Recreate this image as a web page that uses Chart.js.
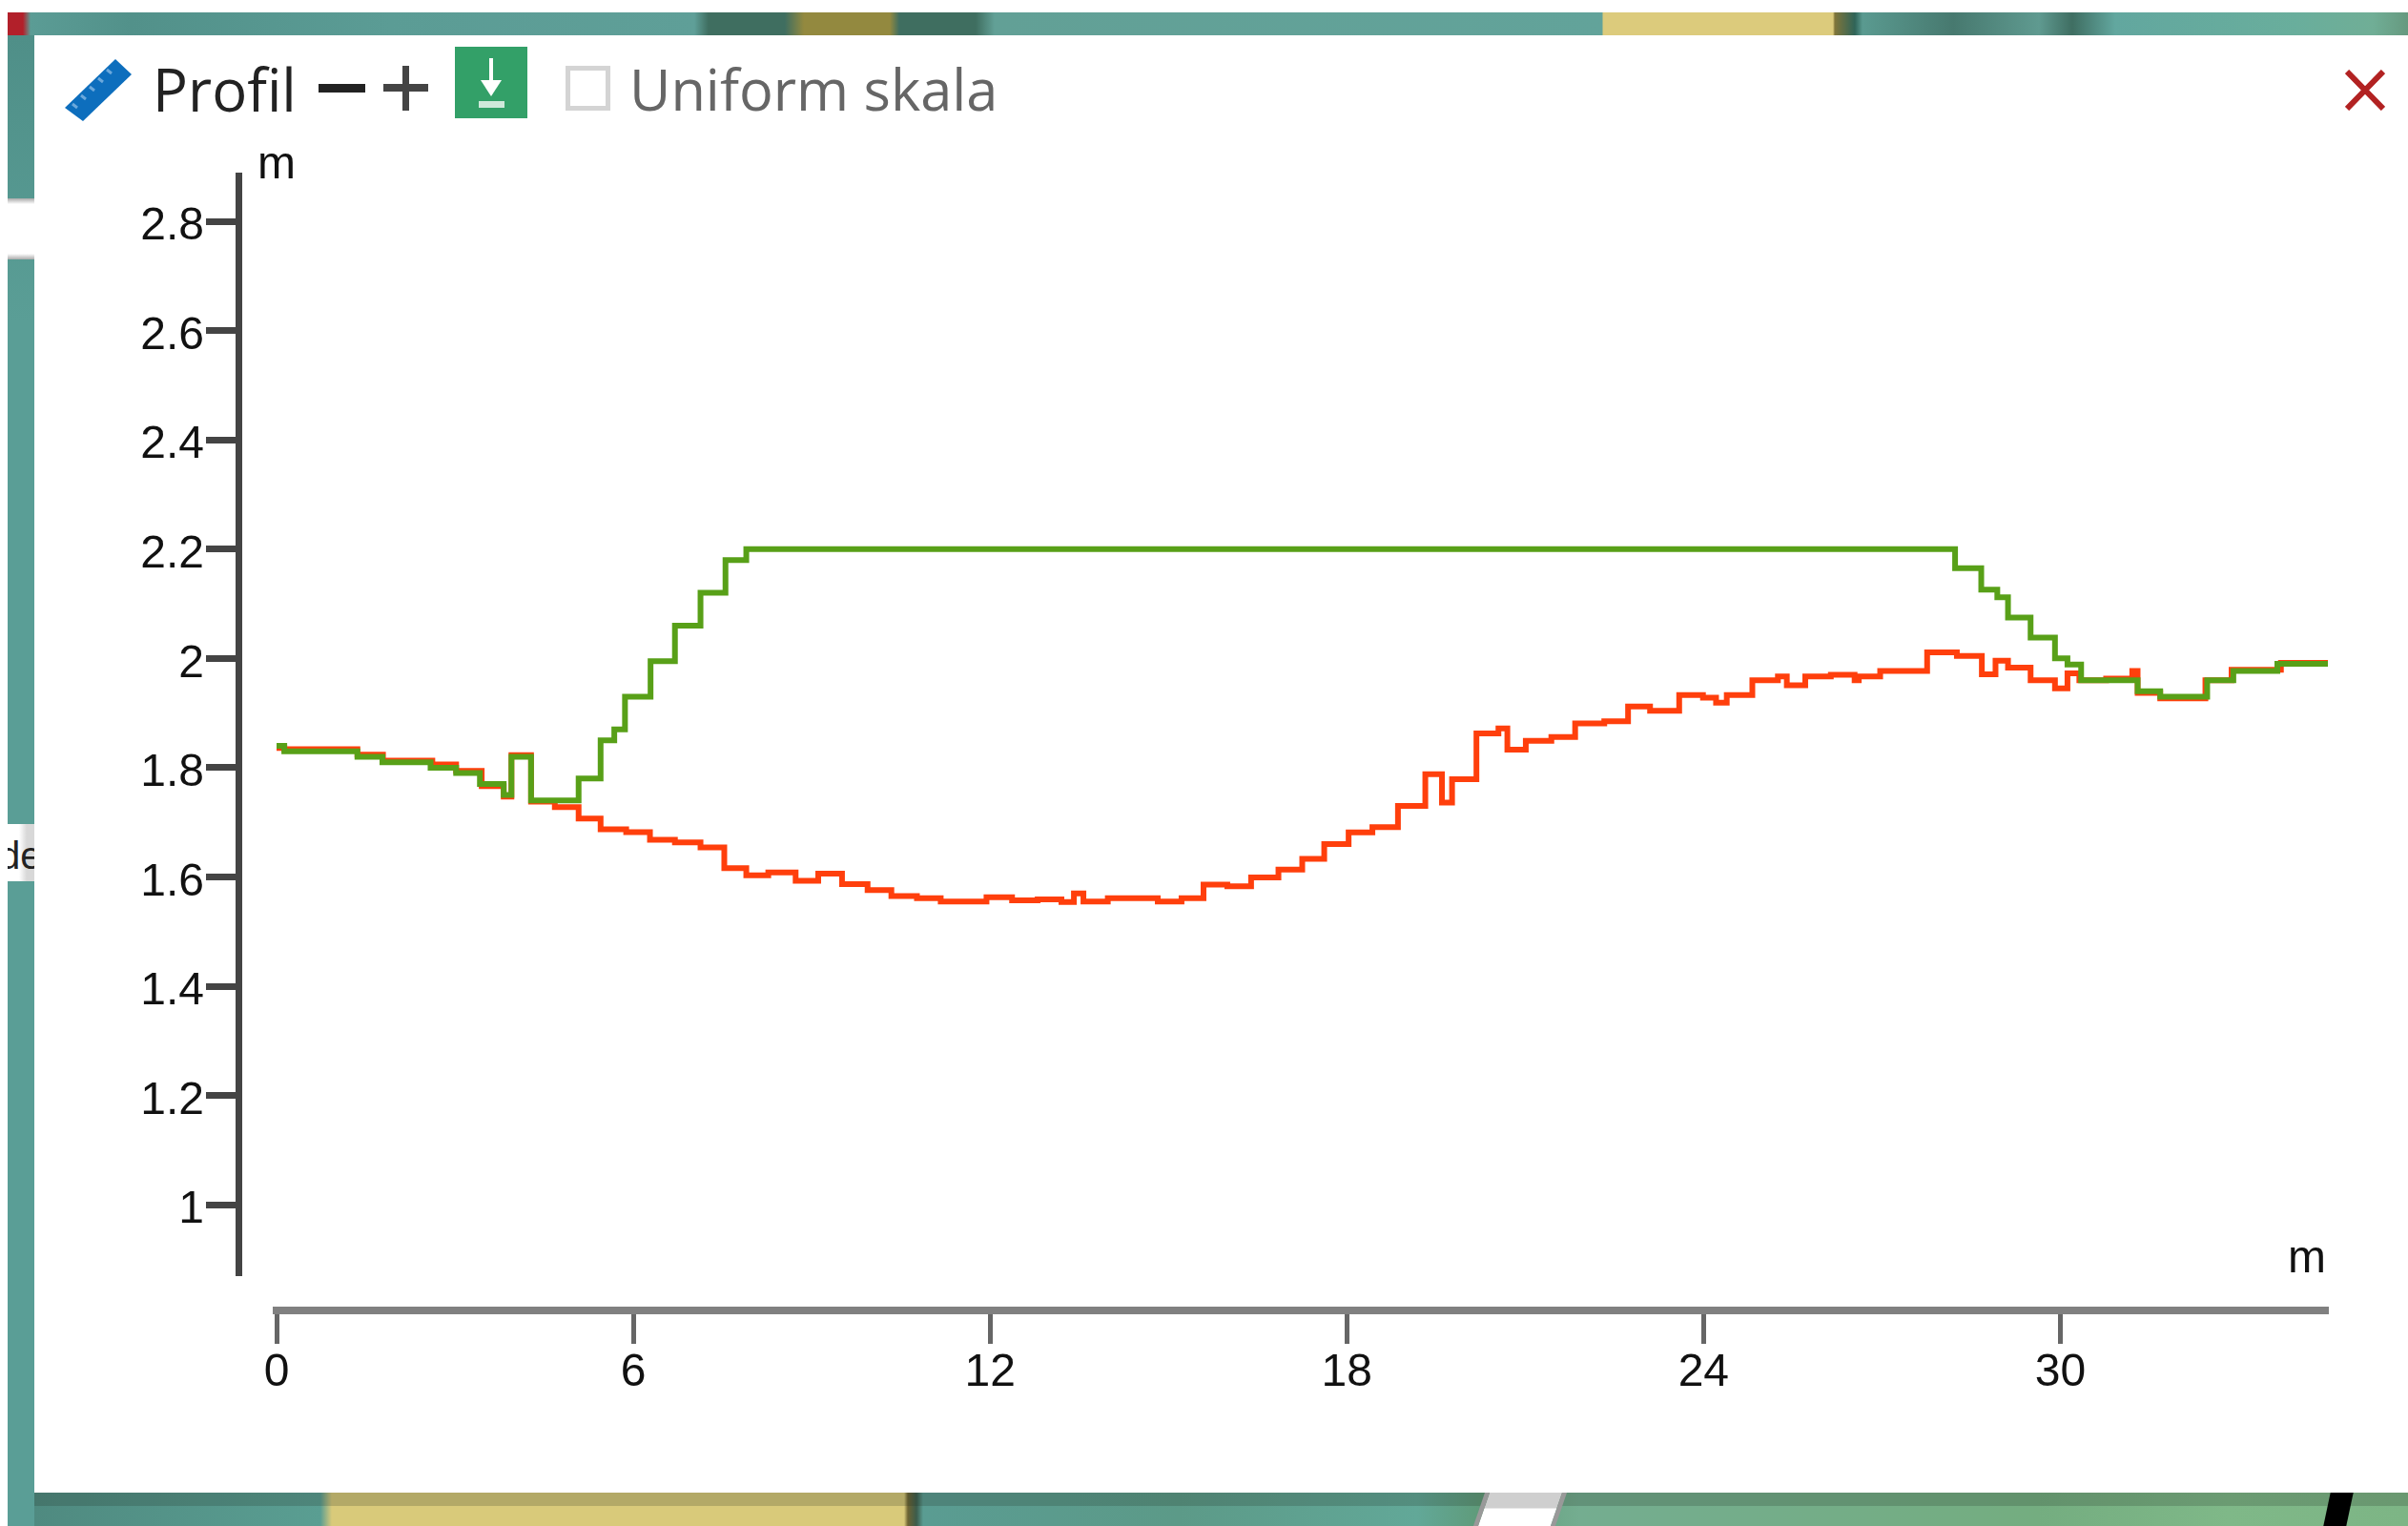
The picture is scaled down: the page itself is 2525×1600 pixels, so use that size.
<!DOCTYPE html>
<html lang="sv">
<head>
<meta charset="utf-8">
<title>Profil</title>
<script src="https://cdn.jsdelivr.net/npm/chart.js@4/dist/chart.umd.min.js"></script>
<style>
  html, body { margin: 0; padding: 0; background: #fff; }
  #page { position: relative; width: 2525px; height: 1600px; overflow: hidden; background: #fff; }
  #page > * { position: absolute; }
  #mapTop { left: 8px; top: 13px; width: 2517px; height: 24px;
    background: linear-gradient(90deg, #b2202a 0, #b2202a 16px, #5b9c95 24px, #52918a 130px, #5b9c95 400px, #5f9f98 720px, #3f6e60 735px, #3f6e60 815px, #93893f 835px, #93893f 925px, #3f6e60 935px, #3f6e60 1015px, #62a096 1035px, #62a39a 1672px, #dccb7c 1673px, #dccb7c 1914px, #80753a 1916px, #2f6458 1937px, #5a9a90 1945px, #47796f 2040px, #5f9a90 2130px, #3f6e62 2165px, #62a79f 2210px, #69ae9c 2400px, #70ae96 2480px, #66997f 2517px); }
  #mapLeft { left: 8px; top: 37px; width: 28px; height: 1563px;
    background: linear-gradient(180deg, #4f8f88 0, #5a9e96 300px, #5a9e96 1563px); }
  #patchA { left: 8px; top: 208px; width: 28px; height: 64px; background: linear-gradient(180deg, #aaa 0, #fff 6px, #fff 58px, #aaa 64px); }
  #patchB { left: 8px; top: 864px; width: 28px; height: 60px; background: linear-gradient(90deg, #fff 0, #fff 12px, #d8d8d8 20px, #d8d8d8 28px); font: 40px "Liberation Sans"; color: #222; line-height: 66px; overflow: hidden; text-indent: -9px; }
  #mapBottom { left: 36px; top: 1565px; width: 2489px; height: 35px;
    background: linear-gradient(90deg, #4f8a80 0, #5a9e92 300px, #d9ca7a 312px, #d9ca7a 912px, #6d6433 916px, #3c5c4c 925px, #5a9c92 932px, #5c9a88 1200px, #62a898 1450px, #5f9a78 1520px, #74ad90 1620px, #74ad80 2100px, #7fb888 2300px, #7db585 2489px); }
  #mapShade { left: 36px; top: 1565px; width: 2489px; height: 14px; background: rgba(30, 40, 30, 0.2); }
  #road { left: 1551px; top: 1565px; width: 76px; height: 35px; background: linear-gradient(180deg, #cfcfcf 0, #cfcfcf 16px, #fff 17px); border-left: 5px solid #999; border-right: 5px solid #999; transform: skewX(-19deg); transform-origin: 50% 50%; }
  #roadBlack { left: 2440px; top: 1565px; width: 24px; height: 35px; background: #000; transform: skewX(-12deg); }
  #panel { left: 36px; top: 37px; width: 2489px; height: 1528px; background: #fff; }
  #chartBox { left: 0; top: 0; width: 2525px; height: 1600px; }
  .head { font-family: "Open Sans"; line-height: 80px; white-space: nowrap; }
  #titleText { left: 160px; top: 53px; color: #222; font-size: 61.5px; }
  #skala { left: 660px; top: 53px; color: #666; font-size: 59.5px; }
  #minus { left: 334px; top: 88px; width: 49px; height: 9px; background: #222; }
  #plusH { left: 402px; top: 88px; width: 47px; height: 8px; background: #444; }
  #plusV { left: 422px; top: 69px; width: 7px; height: 47px; background: #444; }
  #download { left: 477px; top: 49px; width: 76px; height: 75px; background: #33a068; }
  #check { left: 593px; top: 69px; width: 37px; height: 37px; border: 5px solid #d4d4d4; }
  .unit { font: 48px "Liberation Sans"; line-height: 48px; color: #111; }
  #unitY { left: 270px; top: 147px; }
  #unitX { left: 2399px; top: 1294px; }
</style>
</head>
<body>
<div id="page">
  <div id="mapTop"></div>
  <div id="mapLeft"></div>
  <div id="patchA"></div>
  <div id="patchB">de</div>
  <div id="mapBottom"></div>
  <div id="mapShade"></div>
  <div id="road"></div>
  <div id="roadBlack"></div>
  <div id="panel"></div>

  <svg style="left:66px;top:58px" width="76" height="76" viewBox="0 0 76 76">
    <polygon points="55,4 72,20 21,69 2,55" fill="#0d6ebd"/>
    <path d="M10 51l5 4M19 42l5 4M28 33l5 4M37 24l5 4M46 15l5 4" stroke="#6ba8dc" stroke-width="3"/>
  </svg>
  <div id="titleText" class="head">Profil</div>
  <div id="minus"></div>
  <div id="plusH"></div>
  <div id="plusV"></div>
  <div id="download">
    <svg width="76" height="75" viewBox="0 0 76 75">
      <path d="M38 12v30" stroke="#fff" stroke-width="4"/>
      <polygon points="27,35 49,35 38,52" fill="#fff"/>
      <rect x="25" y="57" width="27" height="7" fill="#cfe9da"/>
    </svg>
  </div>
  <div id="check"></div>
  <div id="skala" class="head">Uniform skala</div>
  <svg style="left:2459px;top:73px" width="42" height="43" viewBox="0 0 42 43">
    <path d="M2 2L40 41M40 2L2 41" stroke="#b22222" stroke-width="6"/>
  </svg>

  <div id="chartBox"><canvas id="profileChart" width="2525" height="1600"></canvas></div>
  <div id="unitY" class="unit">m</div>
  <div id="unitX" class="unit">m</div>
</div>

<script>
const xTickValues = [0, 6, 12, 18, 24, 30];
const yTickValues = [1, 1.2, 1.4, 1.6, 1.8, 2, 2.2, 2.4, 2.6, 2.8];

const greenDist = [0, 0.13, 1.36, 1.78, 2.59, 3.02, 3.42, 3.82, 3.95, 4.28, 5.08, 5.45, 5.68, 5.86, 6.29, 6.70, 7.13, 7.55, 7.90, 28.23, 28.67, 28.94, 29.12, 29.50, 29.91, 30.12, 30.35, 31.30, 31.68, 32.47, 32.91, 33.65, 34.53];
const greenHeight = [1.84, 1.83, 1.82, 1.81, 1.80, 1.79, 1.77, 1.75, 1.82, 1.74, 1.78, 1.85, 1.87, 1.93, 1.995, 2.06, 2.12, 2.18, 2.20, 2.165, 2.126, 2.112, 2.075, 2.038, 2.00, 1.989, 1.96, 1.94, 1.93, 1.96, 1.977, 1.99, 1.99];

const redDist = [0, 0.13, 1.36, 1.79, 2.62, 3.02, 3.45, 3.82, 3.95, 4.28, 4.68, 5.08, 5.45, 5.88, 6.28, 6.70, 7.13, 7.53, 7.90, 8.27, 8.73, 9.11, 9.51, 9.94, 10.34, 10.77, 11.17, 11.94, 12.37, 12.80, 13.20, 13.41, 13.57, 13.98, 14.82, 15.22, 15.59, 15.99, 16.39, 16.85, 17.25, 17.62, 18.03, 18.43, 18.86, 19.32, 19.60, 19.77, 20.18, 20.55, 20.70, 21.01, 21.44, 21.84, 22.33, 22.73, 23.10, 23.59, 23.99, 24.21, 24.39, 24.82, 25.25, 25.40, 25.71, 26.14, 26.54, 26.61, 26.97, 27.76, 28.26, 28.68, 28.91, 29.12, 29.50, 29.91, 30.12, 30.32, 30.77, 31.21, 31.30, 31.68, 32.44, 32.88, 33.71, 34.53];
const redHeight = [1.836, 1.834, 1.824, 1.813, 1.806, 1.794, 1.766, 1.747, 1.823, 1.738, 1.728, 1.707, 1.687, 1.682, 1.668, 1.663, 1.654, 1.616, 1.603, 1.608, 1.593, 1.606, 1.587, 1.576, 1.565, 1.561, 1.555, 1.563, 1.557, 1.559, 1.554, 1.570, 1.555, 1.561, 1.555, 1.561, 1.586, 1.583, 1.599, 1.6135, 1.633, 1.660, 1.6815, 1.691, 1.730, 1.788, 1.736, 1.779, 1.8625, 1.872, 1.833, 1.849, 1.856, 1.881, 1.885, 1.912, 1.904, 1.933, 1.928, 1.919, 1.933, 1.960, 1.967, 1.951, 1.967, 1.970, 1.960, 1.967, 1.977, 2.011, 2.0045, 1.971, 1.996, 1.983, 1.960, 1.945, 1.9725, 1.960, 1.963, 1.977, 1.937, 1.927, 1.960, 1.979, 1.992, 1.992];

const toPoints = (xs, ys) => xs.map((x, i) => ({ x: x, y: ys[i] }));

const tickFont = { family: "Liberation Sans", size: 48 };

// canvas text sits a little high against the ticks in the original, nudge it
const shiftLabels = (scale) => {
    const getItems = scale.getLabelItems.bind(scale);
    scale.getLabelItems = (area) =>
        getItems(area).map((item) => ({ ...item, textOffset: item.textOffset + 3 }));
};

const profileChart = new Chart(document.getElementById("profileChart"), {
    type: "line",
    data: {
        datasets: [
            {
                label: "Profil",
                data: toPoints(greenDist, greenHeight),
                stepped: true,
                borderColor: "#58a018",
                borderWidth: 6,
                pointRadius: 0,
                fill: false,
                order: 0,
            },
            {
                label: "Terreng",
                data: toPoints(redDist, redHeight),
                stepped: true,
                borderColor: "#ff3f0c",
                borderWidth: 6,
                pointRadius: 0,
                fill: false,
                order: 1,
            },
        ],
    },
    options: {
        responsive: false,
        animation: false,
        events: [],
        layout: { padding: { left: 0, right: 84, top: 184, bottom: 100 } },
        plugins: { legend: { display: false }, tooltip: { enabled: false } },
        scales: {
            x: {
                type: "linear",
                min: 0,
                max: 34.5,
                weight: 1,
                afterBuildTicks: (scale) => {
                    scale.ticks = xTickValues.map((v) => ({ value: v }));
                },
                afterFit: (scale) => {
                    scale.height = 126;
                },
                border: { display: true, color: "#808080", width: 8 },
                grid: { drawOnChartArea: false, drawTicks: true, tickLength: 35, tickWidth: 5, tickColor: "#666", color: "#666" },
                ticks: { font: tickFont, color: "#111", padding: 2, maxRotation: 0, autoSkip: false, callback: (v) => String(v) },
            },
            y: {
                type: "linear",
                min: 0.871,
                max: 2.884,
                weight: 1,
                afterBuildTicks: (scale) => {
                    scale.ticks = yTickValues.map((v) => ({ value: v }));
                },
                afterFit: (scale) => {
                    scale.width = 250;
                },
                afterUpdate: shiftLabels,
                border: { display: true, color: "#444", width: 7 },
                grid: { drawOnChartArea: false, drawTicks: true, tickLength: 34, tickWidth: 7, tickColor: "#444", color: "#444" },
                ticks: { font: tickFont, color: "#111", padding: 2, autoSkip: false, callback: (v) => String(+v.toFixed(1)) },
            },
            // empty scales that push the real axes away from the plot
            gapX: {
                axis: "x",
                type: "linear",
                position: "bottom",
                weight: 0,
                afterFit: (scale) => {
                    scale.height = 37;
                },
                border: { display: false },
                grid: { display: false },
                ticks: { display: false },
            },
            gapY: {
                axis: "y",
                type: "linear",
                position: "left",
                weight: 0,
                afterFit: (scale) => {
                    scale.width = 40;
                },
                border: { display: false },
                grid: { display: false },
                ticks: { display: false },
            },
        },
    },
});
</script>
</body>
</html>
